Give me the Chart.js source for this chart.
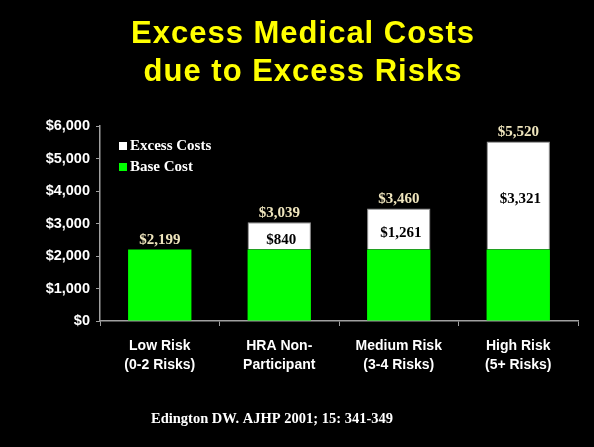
<!DOCTYPE html>
<html>
<head>
<meta charset="utf-8">
<script src="https://cdn.jsdelivr.net/npm/chart.js@4"></script>
<style>
  html, body { margin: 0; padding: 0; background: #000; }
  #wrap { position: relative; width: 594px; height: 447px; }
</style>
</head>
<body>
<div id="wrap"><canvas id="costChart" width="594" height="447"></canvas></div>
<script>
// data
const categories = [['Low Risk', '(0-2 Risks)'], ['HRA Non-', 'Participant'], ['Medium Risk', '(3-4 Risks)'], ['High Risk', '(5+ Risks)']];
const baseCost = [2199, 2199, 2199, 2199];
const excessCost = [0, 840, 1261, 3321];
const totalCost = [2199, 3039, 3460, 5520];
const yTicks = [0, 1000, 2000, 3000, 4000, 5000, 6000];

const money = v => '$' + v.toLocaleString('en-US');

// title, legend, footer and value labels
const slideText = {
  id: 'slideText',
  afterDraw(chart) {
    const ctx = chart.ctx;
    ctx.save();
    ctx.textAlign = 'center';
    ctx.textBaseline = 'alphabetic';
    ctx.fillStyle = '#ffff00';
    ctx.font = 'bold 31px "Liberation Sans", Arial, sans-serif';
    ctx.letterSpacing = '1px';
    ctx.fillText('Excess Medical Costs', 303, 43);
    ctx.fillText('due to Excess Risks', 303, 81);
    ctx.letterSpacing = '0px';

    // legend
    ctx.textAlign = 'left';
    ctx.textBaseline = 'middle';
    ctx.font = 'bold 15px "Liberation Serif", "Times New Roman", serif';
    ctx.fillStyle = '#ffffff';
    ctx.fillRect(119, 142, 8, 8);
    ctx.fillText('Excess Costs', 130, 146);
    ctx.fillStyle = '#00ff00';
    ctx.fillRect(119, 163, 8, 8);
    ctx.fillStyle = '#ffffff';
    ctx.fillText('Base Cost', 130, 167);

    // value labels
    ctx.textAlign = 'center';
    ctx.font = 'bold 15px "Liberation Serif", "Times New Roman", serif';
    const baseMeta = chart.getDatasetMeta(0);
    const y = chart.scales.y;
    totalCost.forEach((t, i) => {
      const x = baseMeta.data[i].x;
      ctx.fillStyle = '#efe5bd';
      ctx.fillText(money(t), x, y.getPixelForValue(t) - 9);
      if (excessCost[i] > 0) {
        ctx.fillStyle = '#000000';
        const mid = y.getPixelForValue(baseCost[i] + excessCost[i] / 2);
        ctx.fillText(money(excessCost[i]), x + 2, mid + 4);
      }
    });

    // footer
    ctx.fillStyle = '#ffffff';
    ctx.font = 'bold 14.5px "Liberation Serif", "Times New Roman", serif';
    ctx.fillText('Edington DW. AJHP 2001; 15: 341-349', 272, 419);
    ctx.restore();
  }
};

new Chart(document.getElementById('costChart').getContext('2d'), {
  type: 'bar',
  data: {
    labels: categories,
    datasets: [
      {
        label: 'Base Cost',
        data: baseCost,
        backgroundColor: '#00ff00',
        borderWidth: 0,
        categoryPercentage: 1,
        barPercentage: 0.53
      },
      {
        label: 'Excess Costs',
        data: excessCost,
        backgroundColor: '#ffffff',
        borderColor: '#9a9a9a',
        borderWidth: { top: 1, left: 1, right: 1, bottom: 0 },
        categoryPercentage: 1,
        barPercentage: 0.53
      }
    ]
  },
  options: {
    responsive: false,
    animation: false,
    layout: { padding: { top: 126, right: 16, left: 0, bottom: 0 } },
    plugins: { legend: { display: false }, tooltip: { enabled: false } },
    scales: {
      x: {
        stacked: true,
        afterFit: s => { s.height = 126; },
        border: { color: '#a0a0a0', width: 1.5 },
        grid: { drawOnChartArea: false, color: '#a0a0a0', tickLength: 5 },
        ticks: {
          color: '#ffffff',
          padding: 10,
          font: { family: '"Liberation Sans", Arial, sans-serif', size: 14, weight: 'bold', lineHeight: 1.4 }
        }
      },
      y: {
        stacked: true,
        min: 0,
        max: 6000,
        afterFit: s => { s.width = 100; },
        afterBuildTicks: s => { s.ticks = yTicks.map(v => ({ value: v })); },
        border: { color: '#a0a0a0', width: 1.5 },
        grid: { drawOnChartArea: false, color: '#a0a0a0', tickLength: 4 },
        ticks: {
          color: '#ffffff',
          padding: 6,
          callback: v => money(v),
          font: { family: '"Liberation Sans", Arial, sans-serif', size: 14.5, weight: 'bold' }
        }
      }
    }
  },
  plugins: [slideText]
});
</script>
</body>
</html>
